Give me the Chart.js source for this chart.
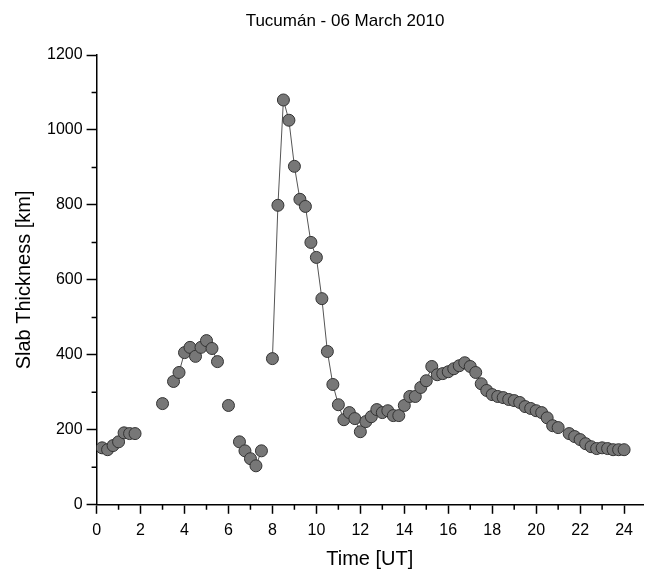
<!DOCTYPE html>
<html>
<head>
<meta charset="utf-8">
<script src="https://cdn.jsdelivr.net/npm/chart.js@4"></script>
<style>
  html, body { margin: 0; padding: 0; background: #fff; }
  #wrap { width: 645px; height: 571px; }
</style>
</head>
<body>
<div id="wrap"><canvas id="slab"></canvas></div>
<script>
// time in UT hours, null = no measurement
const times = [0.25, 0.5, 0.75, 1, 1.25, 1.5, 1.75, 2, 2.25, 2.5, 2.75, 3, 3.25, 3.5, 3.75,
  4, 4.25, 4.5, 4.75, 5, 5.25, 5.5, 5.75, 6, 6.25, 6.5, 6.75, 7, 7.25, 7.5, 7.75,
  8, 8.25, 8.5, 8.75, 9, 9.25, 9.5, 9.75, 10, 10.25, 10.5, 10.75, 11, 11.25, 11.5, 11.75,
  12, 12.25, 12.5, 12.75, 13, 13.25, 13.5, 13.75, 14, 14.25, 14.5, 14.75, 15, 15.25, 15.5, 15.75,
  16, 16.25, 16.5, 16.75, 17, 17.25, 17.5, 17.75, 18, 18.25, 18.5, 18.75, 19, 19.25, 19.5, 19.75,
  20, 20.25, 20.5, 20.75, 21, 21.25, 21.5, 21.75, 22, 22.25, 22.5, 22.75, 23, 23.25, 23.5, 23.75, 24];
const slab = [152, 147, 158, 168, 192, 190, 190, null, null, null, null, 270, null, 329, 353,
  406, 420, 396, 420, 438, 417, 382, null, 265, null, 168, 144, 123, 104, 144, null,
  390, 799, 1080, 1026, 903, 815, 796, 700, 660, 550, 409, 321, 267, 227, 246, 230,
  195, 222, 235, 254, 246, 251, 238, 238, 265, 289, 289, 313, 331, 369, 347, 350,
  355, 363, 371, 379, 369, 353, 323, 305, 294, 289, 286, 281, 278, 273, 262, 257,
  251, 246, 232, 211, 206, null, 190, 182, 174, 163, 155, 150, 152, 150, 147, 147, 147];

const xTicks = [0, 2, 4, 6, 8, 10, 12, 14, 16, 18, 20, 22, 24];
const yTicks = [0, 200, 400, 600, 800, 1000, 1200];
const titleText = "Tucumán - 06 March 2010";

const fontFam = "'Liberation Sans', Arial, sans-serif";

// minor ticks (every 1 h / every 100 km) and the title, which sits right of the canvas centre
const extras = {
  id: "extras",
  afterDraw(chart) {
    const ctx = chart.ctx;
    const xs = chart.scales.x, ys = chart.scales.y;
    const a = chart.chartArea;
    ctx.save();
    ctx.strokeStyle = "#000";
    ctx.lineWidth = 1.5;
    ctx.beginPath();
    for (let h = 1; h < 24; h += 2) {
      const px = xs.getPixelForValue(h);
      ctx.moveTo(px, a.bottom);
      ctx.lineTo(px, a.bottom + 5);
    }
    for (let k = 100; k < 1200; k += 200) {
      const py = ys.getPixelForValue(k);
      ctx.moveTo(a.left, py);
      ctx.lineTo(a.left - 5, py);
    }
    ctx.stroke();
    ctx.fillStyle = "#000";
    ctx.font = "17px " + fontFam;
    ctx.textAlign = "center";
    ctx.textBaseline = "middle";
    ctx.fillText(titleText, 345, 21);
    ctx.restore();
  }
};

new Chart(document.getElementById("slab"), {
  type: "line",
  data: {
    datasets: [{
      data: times.map((t, i) => ({ x: t, y: slab[i] })),
      borderColor: "#555",
      borderWidth: 1,
      pointRadius: 6,
      pointBackgroundColor: "#777",
      pointBorderColor: "#333",
      pointBorderWidth: 1,
      spanGaps: false,
      tension: 0
    }]
  },
  options: {
    responsive: true,
    maintainAspectRatio: false,
    animation: false,
    layout: { autoPadding: false, padding: { left: 5, right: 2, top: 55, bottom: 0 } },
    plugins: {
      legend: { display: false },
      tooltip: { enabled: false },
      title: { display: false }
    },
    scales: {
      x: {
        type: "linear",
        min: 0,
        max: 24.86,
        afterBuildTicks: s => { s.ticks = xTicks.map(v => ({ value: v })); },
        ticks: { color: "#000", font: { family: fontFam, size: 16 }, padding: 7, maxRotation: 0 },
        grid: { drawOnChartArea: false, drawTicks: true, tickLength: 9, tickWidth: 1.5, tickColor: "#000" },
        border: { display: true, color: "#000", width: 1.5 },
        title: {
          display: true, text: "Time [UT]", color: "#000",
          font: { family: fontFam, size: 20 }, padding: { top: 0, bottom: 0 }
        }
      },
      y: {
        min: 0,
        max: 1200,
        afterBuildTicks: s => { s.ticks = yTicks.map(v => ({ value: v })); },
        ticks: { color: "#000", font: { family: fontFam, size: 16 }, padding: 4, callback: v => String(v) },
        grid: { drawOnChartArea: false, drawTicks: true, tickLength: 10, tickWidth: 1.5, tickColor: "#000" },
        border: { display: true, color: "#000", width: 1.5 },
        title: {
          display: true, text: "Slab Thickness [km]", color: "#000",
          font: { family: fontFam, size: 20 }, padding: { top: 7, bottom: 7 }
        }
      }
    }
  },
  plugins: [extras]
});
</script>
</body>
</html>
